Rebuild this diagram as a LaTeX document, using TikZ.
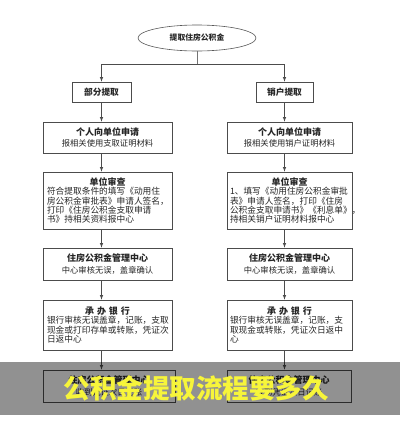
\documentclass[tikz,border=0pt]{standalone}
\usepackage{fontspec}
\setmainfont{Noto Sans CJK SC}
\usetikzlibrary{shapes}
\usetikzlibrary{arrows}
\definecolor{banner}{RGB}{247,245,58}
\newcommand\headtext[1]{{\fontsize{9}{11.5}\selectfont\bfseries #1}}
\newcommand\boxhead[1]{\noindent\hbox to \hsize{\hfil\fontsize{9}{11}\selectfont\bfseries #1\hfil}}

\begin{document}
\begin{tikzpicture}[x=1pt,y=-1pt]
			\tikzstyle{every node}=[font=\fontsize{8.3}{11.5}\selectfont, text=black!85]
			\tikzstyle{plain}=[rectangle, draw=black!70, line width=0.7pt, inner sep=3pt, align=center]
			\tikzstyle{detail}=[plain, align=left, font=\fontsize{8.7}{9.4}\selectfont]
			\tikzstyle{link}=[draw=black!70, line width=0.6pt, -latex]
			
			\useasboundingbox (0,0) rectangle (400,442);
			
			\node[ellipse, draw=black!65, line width=0.6pt, minimum width=118, minimum height=26, inner sep=0pt] (root) at (197,38) {\fontsize{7.8}{9}\selectfont\bfseries 提取住房公积金};
			\node[plain, minimum width=59, minimum height=20] (part) at (101.5,92) {\fontsize{8.7}{10}\selectfont\bfseries 部分提取};
			\node[plain, minimum width=57, minimum height=20] (close) at (284.5,92) {\fontsize{8.7}{10}\selectfont\bfseries 销户提取};
			
			% left column
			\node[plain, minimum width=129, minimum height=31] (pApply) at (107.5,137.5) {\headtext{个人向单位申请}\\报相关使用支取证明材料};
			\node[detail, text width=121, minimum width=129, minimum height=57] (pCheck) at (107.5,200.5) {\boxhead{单位审查}\\符合提取条件的填写《动用住\\房公积金审批表》申请人签名，\\打印《住房公积金支取申请\\书》持相关资料报中心};
			\node[plain, minimum width=129, minimum height=32] (pCenter) at (107.5,264) {\headtext{住房公积金管理中心}\\中心审核无误，盖章确认};
			\node[detail, text width=121, minimum width=129, minimum height=50] (pBank) at (107.5,325) {\boxhead{承\ 办\ 银\ 行}\\银行审核无误盖章，记账，支取\\现金或打印存单或转账，凭证次\\日返中心};
			\node[plain, minimum width=132, minimum height=32] (pEnd) at (109,386) {\headtext{住房公积金管理中心}\\收到凭证次日记账};
			
			% right column
			\node[plain, minimum width=125, minimum height=31] (cApply) at (289.5,137.5) {\headtext{个人向单位申请}\\报相关使用销户证明材料};
			\node[detail, text width=119, inner sep=2pt, minimum width=125, minimum height=57] (cCheck) at (289.5,200.5) {\boxhead{单位审查}\\1、填写《动用住房公积金审批\\表》申请人签名，打印《住房\\公积金支取申请书》《利息单》，\\持相关销户证明材料报中心};
			\node[plain, minimum width=125, minimum height=32] (cCenter) at (289.5,264) {\headtext{住房公积金管理中心}\\中心审核无误，盖章确认};
			\node[detail, text width=119, inner sep=2pt, minimum width=125, minimum height=50] (cBank) at (289.5,325) {\boxhead{承\ 办\ 银\ 行}\\银行审核无误盖章，记账，支\\取现金或转账，凭证次日返中\\心};
			\node[plain, minimum width=124, minimum height=32] (cEnd) at (289,386) {\headtext{住房公积金管理中心}\\收到凭证次日记账};
			
			\coordinate (split) at (197,64);
			\draw[draw=black!55, line width=0.6pt] (root.south) -- (split);
			\draw[link] (split) -| (part.north);
			\draw[link] (split) -| (close.north);
			\draw[link] (part.south) -- (part.south |- pApply.north);
			\draw[link] (close.south) -- (close.south |- cApply.north);
			\foreach \a/\b in {pApply/pCheck, pCheck/pCenter, pCenter/pBank, pBank/pEnd}
				\draw[link] (part.south |- \a.south) -- (part.south |- \b.north);
			\foreach \a/\b in {cApply/cCheck, cCheck/cCenter, cCenter/cBank, cBank/cEnd}
				\draw[link] (close.south |- \a.south) -- (close.south |- \b.north);
			
			% caption band
			\fill[black, opacity=0.43] (0,362) rectangle (400,415);
			\node[text=banner, font=\fontsize{26.5}{30}\selectfont\bfseries] (slogan) at (196,388) {公积金提取流程要多久};
\end{tikzpicture}
\end{document}
